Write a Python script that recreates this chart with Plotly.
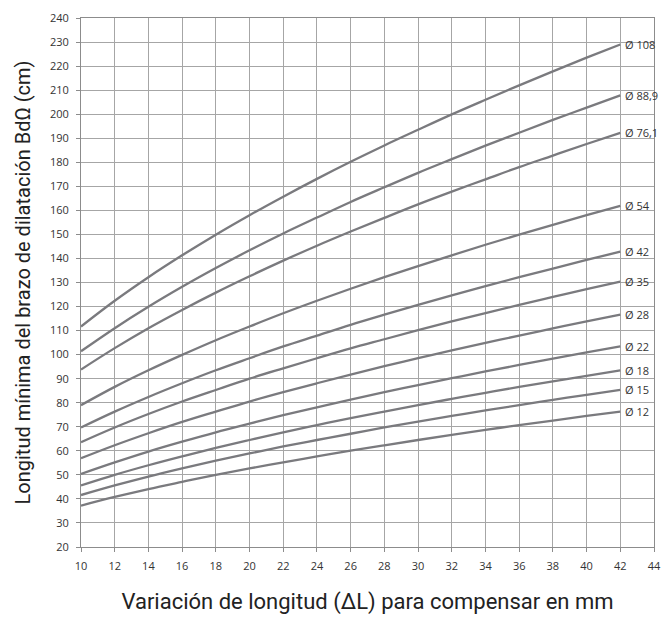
import plotly.graph_objects as go

delta_l = [10, 12, 14, 16, 18, 20, 22, 24, 26, 28, 30, 32, 34, 36, 38, 40, 42]

diam_labels = ["Ø 108", "Ø 88,9", "Ø 76,1", "Ø 54", "Ø 42", "Ø 35", "Ø 28", "Ø 22", "Ø 18", "Ø 15", "Ø 12"]

d108 = [111.7, 122.4, 132.2, 141.3, 149.9, 158.0, 165.7, 173.1, 180.2, 187.0, 193.5, 199.9, 206.0, 212.0, 217.8, 223.5, 229.0]
d88_9 = [101.4, 111.0, 119.9, 128.2, 136.0, 143.4, 150.4, 157.0, 163.5, 169.6, 175.6, 181.3, 186.9, 192.3, 197.6, 202.7, 207.8]
d76_1 = [93.8, 102.7, 111.0, 118.6, 125.8, 132.6, 139.1, 145.3, 151.2, 156.9, 162.5, 167.8, 172.9, 178.0, 182.8, 187.6, 192.2]
d54 = [79.0, 86.6, 93.5, 99.9, 106.0, 111.7, 117.2, 122.4, 127.4, 132.2, 136.8, 141.3, 145.7, 149.9, 154.0, 158.0, 161.9]
d42 = [69.7, 76.3, 82.4, 88.1, 93.5, 98.5, 103.4, 107.9, 112.4, 116.6, 120.7, 124.6, 128.5, 132.2, 135.8, 139.4, 142.8]
d35 = [63.6, 69.7, 75.3, 80.5, 85.3, 90.0, 94.3, 98.5, 102.6, 106.4, 110.2, 113.8, 117.3, 120.7, 124.0, 127.2, 130.4]
d28 = [56.9, 62.3, 67.3, 72.0, 76.3, 80.5, 84.4, 88.1, 91.7, 95.2, 98.5, 101.8, 104.9, 107.9, 110.9, 113.8, 116.6]
d22 = [50.4, 55.2, 59.7, 63.8, 67.7, 71.3, 74.8, 78.1, 81.3, 84.4, 87.3, 90.2, 93.0, 95.7, 98.3, 100.9, 103.4]
d18 = [45.6, 50.0, 54.0, 57.7, 61.2, 64.5, 67.7, 70.7, 73.6, 76.3, 79.0, 81.6, 84.1, 86.6, 88.9, 91.2, 93.5]
d15 = [41.6, 45.6, 49.3, 52.7, 55.9, 58.9, 61.8, 64.5, 67.1, 69.7, 72.1, 74.5, 76.8, 79.0, 81.2, 83.3, 85.3]
d12 = [37.2, 40.8, 44.1, 47.1, 50.0, 52.7, 55.2, 57.7, 60.1, 62.3, 64.5, 66.6, 68.7, 70.7, 72.6, 74.5, 76.3]

series = [d108, d88_9, d76_1, d54, d42, d35, d28, d22, d18, d15, d12]

x_ticks = list(range(10, 46, 2))
y_ticks = list(range(20, 250, 10))

fig = go.Figure()
for name, vals in zip(diam_labels, series):
    fig.add_trace(go.Scatter(
        x=delta_l, y=vals, mode="lines", name=name,
        line=dict(color="#7a7a7e", width=2.3, shape="spline"),
        showlegend=False, hoverinfo="skip",
    ))
    fig.add_annotation(
        x=delta_l[-1], y=vals[-1], text=name, showarrow=False,
        xanchor="left", yanchor="middle", xshift=3,
        font=dict(family="Open Sans, sans-serif", size=11, color="#333333"),
    )

axis_common = dict(
    showgrid=True, gridcolor="#a6a6a6", gridwidth=1,
    showline=True, linecolor="#8c8c8c", linewidth=1, mirror=True,
    ticks="outside", ticklen=4, tickcolor="#8c8c8c",
    tickfont=dict(family="Open Sans, sans-serif", size=11, color="#333333"),
    zeroline=False, automargin=False,
)

fig.update_xaxes(
    range=[10, 44], tickmode="array", tickvals=x_ticks,
    ticktext=[str(v) for v in x_ticks],
    ticklabelstandoff=5,
    title=dict(text="Variación de longitud (ΔL) para compensar en mm",
               font=dict(family="Roboto, sans-serif", size=22, color="#222222"),
               standoff=21),
    **axis_common,
)
fig.update_yaxes(
    range=[20, 240], tickmode="array", tickvals=y_ticks,
    ticktext=[str(v) for v in y_ticks],
    ticklabelstandoff=5,
    title=dict(text="Longitud mínima del brazo de dilatación BdΩ (cm)",
               font=dict(family="Roboto, sans-serif", size=20, color="#222222"),
               standoff=13),
    **axis_common,
)

fig.update_layout(
    width=663, height=617,
    margin=dict(l=81, r=9, t=18, b=70),
    plot_bgcolor="white", paper_bgcolor="white",
)

fig.write_html(
    "out.html",
    config={"displayModeBar": False},
    post_script="document.body.style.margin='0';document.body.style.overflow='hidden';",
)
